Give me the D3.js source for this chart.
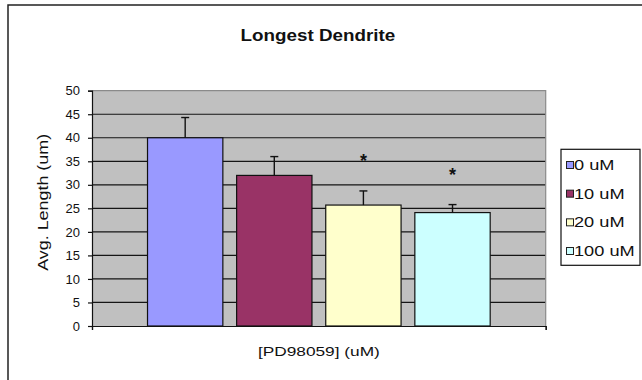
<!DOCTYPE html>
<html>
<head>
<meta charset="utf-8">
<script src="https://cdn.jsdelivr.net/npm/d3@7"></script>
<style>
  html, body { margin: 0; padding: 0; background: #ffffff; }
  svg { display: block; }
  text { font-family: "Liberation Sans", Arial, sans-serif; fill: #111; }
</style>
</head>
<body>
<script>
// ---- data ----
const series = ["0 uM", "10 uM", "20 uM", "100 uM"];
const means = [40.0, 32.0, 25.7, 24.1];
const errors = [4.3, 4.0, 3.0, 1.7];
const starLevels = [null, null, 36, 33];   // asterisk marks (data units)
const colors = ["#9999ff", "#993366", "#ffffcc", "#ccffff"];
const yTicks = [0, 5, 10, 15, 20, 25, 30, 35, 40, 45, 50];
const title = "Longest Dendrite";
const xLabel = "[PD98059] (uM)";
const yLabel = "Avg. Length (um)";

// ---- layout ----
const W = 642, H = 380;
const plot = { left: 92, right: 545.7, top: 90.7, bottom: 326 };

const svg = d3.select("body").append("svg")
  .attr("width", W).attr("height", H);

// outer chart frame (extends past the visible window on the right / bottom)
svg.append("rect")
  .attr("x", 8).attr("y", 5).attr("width", W + 20).attr("height", H + 20)
  .attr("fill", "#ffffff").attr("stroke", "#222").attr("stroke-width", 1.5);

const y = d3.scaleLinear().domain([0, 50]).range([plot.bottom, plot.top]);
const x = d3.scaleBand().domain(series)
  .range([plot.left, plot.right])
  .paddingInner(0.1545).paddingOuter(0.623);

// plot area
svg.append("rect")
  .attr("x", plot.left).attr("y", plot.top)
  .attr("width", plot.right - plot.left).attr("height", plot.bottom - plot.top)
  .attr("fill", "#c0c0c0");

// gridlines
svg.append("g").selectAll("line")
  .data(yTicks.filter(t => t > 0 && t < 50))
  .join("line")
  .attr("x1", plot.left).attr("x2", plot.right)
  .attr("y1", d => y(d)).attr("y2", d => y(d))
  .attr("stroke", "#151515").attr("stroke-width", 1.2);

// plot border top & right (gray)
svg.append("path")
  .attr("d", `M${plot.left},${y(50)}H${plot.right}V${plot.bottom}`)
  .attr("fill", "none").attr("stroke", "#8a8a8a").attr("stroke-width", 1.2);

// bars
svg.append("g").selectAll("rect")
  .data(means)
  .join("rect")
  .attr("x", (d, i) => x(series[i]))
  .attr("y", d => y(d))
  .attr("width", x.bandwidth())
  .attr("height", d => y(0) - y(d))
  .attr("fill", (d, i) => colors[i])
  .attr("stroke", "#111").attr("stroke-width", 1.2);

// error bars (upper only)
const eg = svg.append("g").attr("stroke", "#111").attr("stroke-width", 1.4);
means.forEach((m, i) => {
  const cx = x(series[i]) + x.bandwidth() / 2;
  eg.append("line").attr("x1", cx).attr("x2", cx)
    .attr("y1", y(m)).attr("y2", y(m + errors[i]));
  eg.append("line").attr("x1", cx - 4).attr("x2", cx + 4)
    .attr("y1", y(m + errors[i])).attr("y2", y(m + errors[i]));
});

// significance stars
svg.append("g").selectAll("text")
  .data(starLevels.map((v, i) => ({ v, i })).filter(d => d.v !== null))
  .join("text")
  .attr("x", d => x(series[d.i]) + x.bandwidth() / 2)
  .attr("y", d => y(d.v) + 10.5)
  .attr("text-anchor", "middle")
  .attr("font-size", 18).attr("font-weight", "bold")
  .text("*");

// y axis
const yAxis = svg.append("g")
  .attr("transform", `translate(${plot.left},0)`)
  .call(d3.axisLeft(y).tickValues(yTicks).tickSize(4).tickPadding(8));
yAxis.select(".domain").attr("stroke", "#111").attr("stroke-width", 1.2);
yAxis.selectAll(".tick line").attr("stroke", "#111").attr("stroke-width", 1.2);
yAxis.selectAll(".tick text")
  .attr("font-size", 13).attr("fill", "#111")
  .attr("font-family", "Liberation Sans, Arial, sans-serif");

// x axis line + end ticks
const xAxisScale = d3.scaleLinear().domain([0, 1]).range([plot.left, plot.right]);
const xAxis = svg.append("g")
  .attr("transform", `translate(0,${plot.bottom})`)
  .call(d3.axisBottom(xAxisScale).tickValues([0, 1]).tickSize(4).tickFormat(""));
xAxis.select(".domain").attr("stroke", "#111").attr("stroke-width", 1.2);
xAxis.selectAll(".tick line").attr("stroke", "#111").attr("stroke-width", 1.2);

// stretched text helper (reference text is horizontally stretched)
function stretchedText(g, txt, tx, ty, size, sx, opts = {}) {
  const t = g.append("text")
    .attr("transform", `translate(${tx},${ty})${opts.rotate ? " rotate(" + opts.rotate + ")" : ""} scale(${sx},1)`)
    .attr("font-size", size)
    .attr("text-anchor", opts.anchor || "middle")
    .text(txt);
  if (opts.bold) t.attr("font-weight", "bold");
  return t;
}

const cxPlot = (plot.left + plot.right) / 2;
// title
stretchedText(svg, title, cxPlot - 1, 41, 16.5, 1.14, { bold: true });
// x label
stretchedText(svg, xLabel, cxPlot, 356, 13.5, 1.28);
// y label
stretchedText(svg, yLabel, 48, (plot.top + plot.bottom) / 2 - 6, 14, 1.28, { rotate: -90 });

// legend
const lg = svg.append("g");
lg.append("rect")
  .attr("x", 561).attr("y", 149.3).attr("width", 79).attr("height", 116)
  .attr("fill", "#ffffff").attr("stroke", "#111").attr("stroke-width", 1.2);
const rowY = d3.scalePoint().domain(series).range([165, 251]);
const items = lg.selectAll("g.item").data(series).join("g").attr("class", "item")
  .attr("transform", d => `translate(0,${rowY(d)})`);
items.append("rect")
  .attr("x", 566.5).attr("y", -3.5).attr("width", 7).attr("height", 7)
  .attr("fill", (d, i) => colors[i]).attr("stroke", "#222").attr("stroke-width", 1);
items.each(function (d) {
  stretchedText(d3.select(this), d, 574, 5, 14, 1.3, { anchor: "start" });
});
</script>
</body>
</html>
